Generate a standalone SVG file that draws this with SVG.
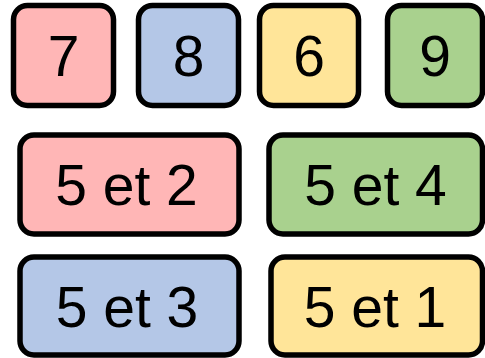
<svg xmlns="http://www.w3.org/2000/svg" width="485" height="358" viewBox="0 0 485 358">
<style>
.box{stroke:#000;stroke-width:5.5}
.pink{fill:#FFB6B6}
.blue{fill:#B4C7E7}
.yellow{fill:#FFE599}
.green{fill:#A9D18E}
text{font-family:"Liberation Sans",Arial,sans-serif;font-size:57px;fill:#000;text-anchor:middle}
</style>
<rect width="485" height="358" fill="#fff"/>
<g id="n7"><rect class="box pink" x="13.5" y="5.5" width="100" height="100" rx="14"/><text x="63.5" y="76">7</text></g>
<g id="n8"><rect class="box blue" x="138.5" y="5.5" width="100" height="100" rx="14"/><text x="188.5" y="76">8</text></g>
<g id="n6"><rect class="box yellow" x="259.5" y="5.5" width="99" height="100" rx="14"/><text x="309" y="76">6</text></g>
<g id="n9"><rect class="box green" x="387.5" y="5.5" width="95" height="100" rx="14"/><text x="435" y="76">9</text></g>
<g id="n52"><rect class="box pink" x="20" y="135" width="219" height="99" rx="14"/><text x="126.5" y="205">5 et 2</text></g>
<g id="n54"><rect class="box green" x="269" y="135" width="213.5" height="99" rx="14"/><text x="375.5" y="205">5 et 4</text></g>
<g id="n53"><rect class="box blue" x="20" y="257" width="219" height="98" rx="14"/><text x="127" y="327">5 et 3</text></g>
<g id="n51"><rect class="box yellow" x="271" y="257" width="211.5" height="98" rx="14"/><text x="375" y="327">5 et 1</text></g>
<g id="connectors"></g>
</svg>
